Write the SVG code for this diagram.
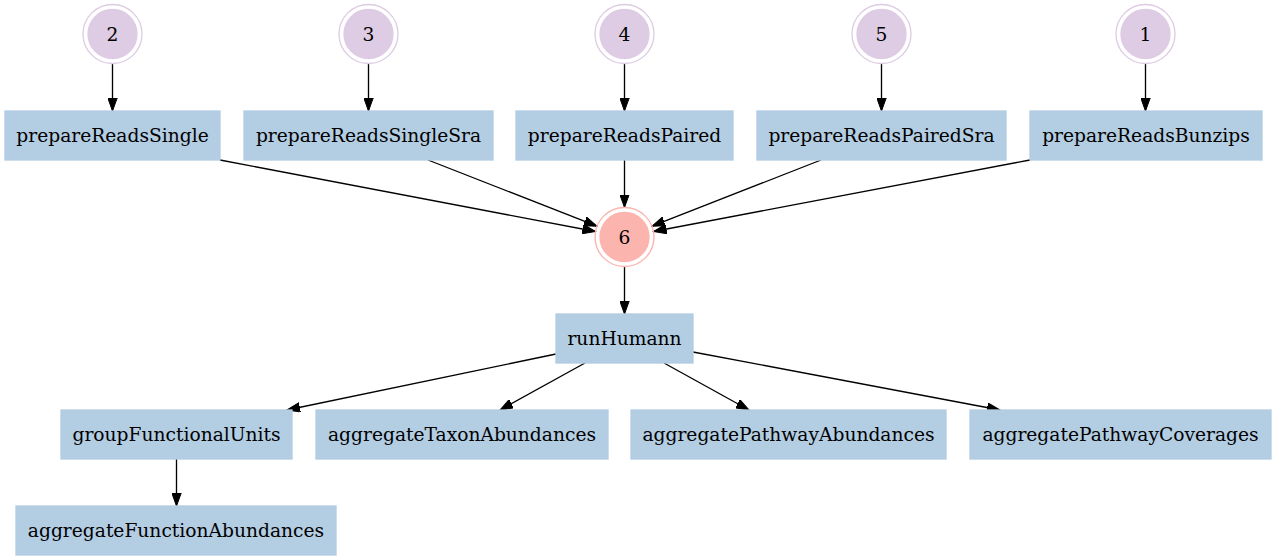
<svg xmlns="http://www.w3.org/2000/svg" width="1276" height="560" viewBox="0 0 1276 560">
<style>
text{font-family:"DejaVu Serif","Liberation Serif",serif;font-size:18.67px;fill:#000;text-anchor:middle}
.box{fill:#b3cde3;stroke:#b3cde3;stroke-width:1.33}
.pin{fill:#decbe4;stroke:#decbe4;stroke-width:1.33}
.pout{fill:none;stroke:#decbe4;stroke-width:1.33}
.rin{fill:#fbb4ae;stroke:#fbb4ae;stroke-width:1.33}
.rout{fill:none;stroke:#fbb4ae;stroke-width:1.33}
.edge{stroke:#000;stroke-width:1.33;fill:none;marker-end:url(#arr)}
</style>
<defs>
<marker id="arr" markerUnits="userSpaceOnUse" markerWidth="14" markerHeight="10" viewBox="0 0 14 10" refX="13" refY="5" orient="auto">
<path d="M0,0.3 L13,5 L0,9.7 z" fill="#000" stroke="#000" stroke-width="1"/>
</marker>
</defs>
<rect width="1276" height="560" fill="#fff"/>
<g id="connectors">
<line class="edge" x1="112.5" y1="63.5" x2="112.5" y2="111"/>
<line class="edge" x1="368.5" y1="63.5" x2="368.5" y2="111"/>
<line class="edge" x1="624.5" y1="63.5" x2="624.5" y2="111"/>
<line class="edge" x1="881.5" y1="63.5" x2="881.5" y2="111"/>
<line class="edge" x1="1145.5" y1="63.5" x2="1145.5" y2="111"/>
<line class="edge" x1="220" y1="160" x2="595.5" y2="231.5"/>
<line class="edge" x1="428" y1="160" x2="597" y2="226.2"/>
<line class="edge" x1="624.5" y1="160" x2="624.5" y2="207.5"/>
<line class="edge" x1="821" y1="160" x2="652" y2="226.2"/>
<line class="edge" x1="1030" y1="160" x2="653.5" y2="231.5"/>
<line class="edge" x1="624.5" y1="266.5" x2="624.5" y2="314"/>
<line class="edge" x1="556" y1="354" x2="287" y2="410"/>
<line class="edge" x1="585" y1="363" x2="500" y2="410"/>
<line class="edge" x1="664" y1="363" x2="749" y2="410"/>
<line class="edge" x1="693" y1="352" x2="1000" y2="410"/>
<line class="edge" x1="176.5" y1="459" x2="176.5" y2="506"/>
</g>
<g id="n2"><circle class="pout" cx="112.5" cy="34" r="29.5"/><circle class="pin" cx="112.5" cy="34" r="24.5"/><text x="112.5" y="40.5">2</text></g>
<g id="n3"><circle class="pout" cx="368.5" cy="34" r="29.5"/><circle class="pin" cx="368.5" cy="34" r="24.5"/><text x="368.5" y="40.5">3</text></g>
<g id="n4"><circle class="pout" cx="624.5" cy="34" r="29.5"/><circle class="pin" cx="624.5" cy="34" r="24.5"/><text x="624.5" y="40.5">4</text></g>
<g id="n5"><circle class="pout" cx="881.5" cy="34" r="29.5"/><circle class="pin" cx="881.5" cy="34" r="24.5"/><text x="881.5" y="40.5">5</text></g>
<g id="n1"><circle class="pout" cx="1145.5" cy="34" r="29.5"/><circle class="pin" cx="1145.5" cy="34" r="24.5"/><text x="1145.5" y="40.5">1</text></g>
<g id="prepareReadsSingle"><rect class="box" x="5" y="111" width="215" height="49"/><text x="112.5" y="142">prepareReadsSingle</text></g>
<g id="prepareReadsSingleSra"><rect class="box" x="244" y="111" width="249" height="49"/><text x="368.5" y="142">prepareReadsSingleSra</text></g>
<g id="prepareReadsPaired"><rect class="box" x="516" y="111" width="217" height="49"/><text x="624.5" y="142">prepareReadsPaired</text></g>
<g id="prepareReadsPairedSra"><rect class="box" x="757" y="111" width="249" height="49"/><text x="881.5" y="142">prepareReadsPairedSra</text></g>
<g id="prepareReadsBunzips"><rect class="box" x="1030" y="111" width="232" height="49"/><text x="1146" y="142">prepareReadsBunzips</text></g>
<g id="n6"><circle class="rout" cx="624.5" cy="237" r="29.5"/><circle class="rin" cx="624.5" cy="237" r="24.5"/><text x="624.5" y="243.5">6</text></g>
<g id="runHumann"><rect class="box" x="556" y="314" width="137" height="49"/><text x="624.5" y="345">runHumann</text></g>
<g id="groupFunctionalUnits"><rect class="box" x="61" y="410" width="231" height="49"/><text x="176.5" y="441">groupFunctionalUnits</text></g>
<g id="aggregateTaxonAbundances"><rect class="box" x="316" y="410" width="292" height="49"/><text x="462" y="441">aggregateTaxonAbundances</text></g>
<g id="aggregatePathwayAbundances"><rect class="box" x="631" y="410" width="315" height="49"/><text x="788.5" y="441">aggregatePathwayAbundances</text></g>
<g id="aggregatePathwayCoverages"><rect class="box" x="970" y="410" width="301" height="49"/><text x="1120.5" y="441">aggregatePathwayCoverages</text></g>
<g id="aggregateFunctionAbundances"><rect class="box" x="16" y="506" width="320" height="49"/><text x="176" y="537">aggregateFunctionAbundances</text></g>
</svg>
